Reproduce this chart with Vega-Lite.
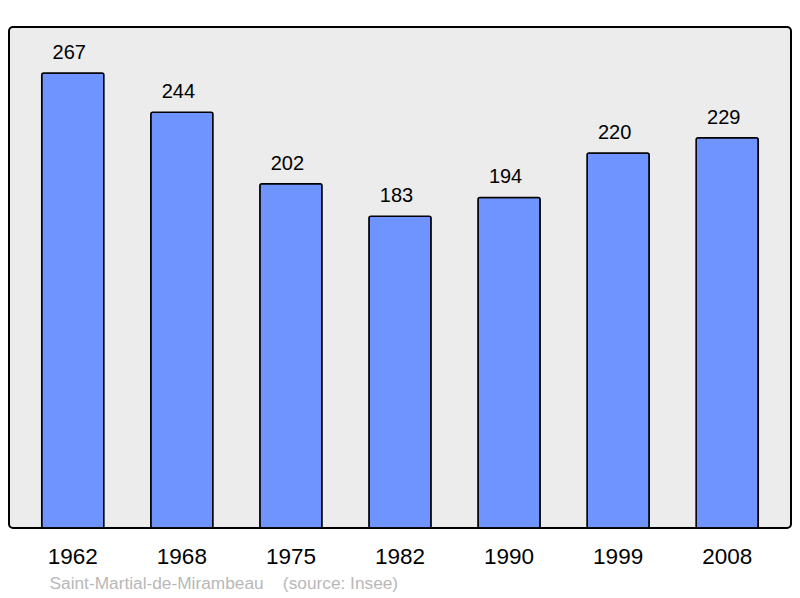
{
  "$schema": "https://vega.github.io/schema/vega-lite/v6.json",
  "width": 782,
  "height": 501,
  "autosize": {"type": "none"},
  "padding": {"left": 9, "top": 27, "right": 9, "bottom": 70},
  "background": "white",
  "config": {
    "font": "Liberation Sans",
    "view": {"fill": "#ececec", "stroke": "black", "strokeWidth": 2, "cornerRadius": 4}
  },
  "data": {
    "values": [
      {"year": "1962", "population": 267},
      {"year": "1968", "population": 244},
      {"year": "1975", "population": 202},
      {"year": "1982", "population": 183},
      {"year": "1990", "population": 194},
      {"year": "1999", "population": 220},
      {"year": "2008", "population": 229}
    ]
  },
  "encoding": {
    "x": {
      "field": "year",
      "type": "ordinal",
      "scale": {"paddingInner": 0.43, "paddingOuter": 0.3},
      "axis": {
        "labelAngle": 0,
        "labelFontSize": 22.5,
        "labelColor": "black",
        "labelPadding": 17,
        "domain": false,
        "ticks": false,
        "title": "Saint-Martial-de-Mirambeau\u00a0\u00a0\u00a0\u00a0(source: Insee)",
        "titleFontSize": 17.3,
        "titleFontWeight": "normal",
        "titleColor": "#b8b8b8",
        "titleAnchor": "start",
        "titleAlign": "left",
        "titleBaseline": "middle",
        "titleX": 40,
        "titleY": 55
      }
    },
    "y": {
      "field": "population",
      "type": "quantitative",
      "scale": {"domain": [0, 294]},
      "axis": null
    }
  },
  "layer": [
    {
      "mark": {"type": "bar", "fill": "#7094ff", "stroke": "black", "strokeWidth": 1.5, "cornerRadius": 2}
    },
    {
      "mark": {"type": "text", "fontSize": 20, "color": "black", "baseline": "alphabetic", "dy": -14, "dx": -3.5},
      "encoding": {"text": {"field": "population", "type": "quantitative"}}
    }
  ]
}
